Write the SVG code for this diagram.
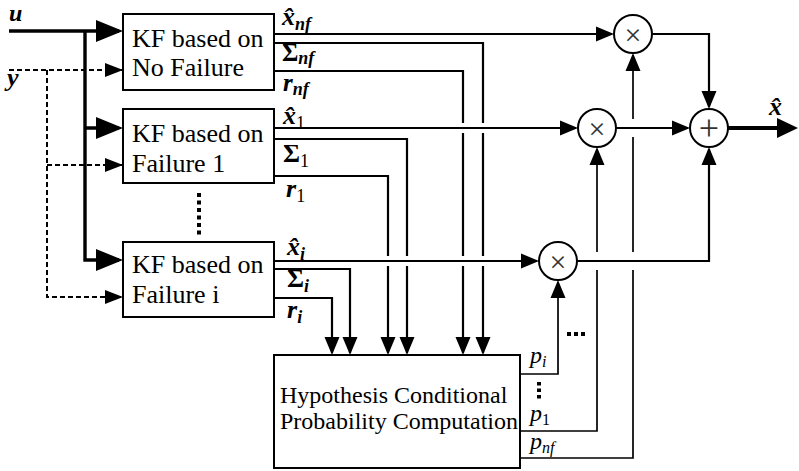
<svg xmlns="http://www.w3.org/2000/svg" width="799" height="471" viewBox="0 0 799 471">
<defs>
<style>
.box{fill:#fff;stroke:#000;stroke-width:2}
.t{font-family:"Liberation Serif","Times New Roman",serif;fill:#000}
.kf{font-size:26px}
.hyp{font-size:24px}
.m{font-size:26px}
.pl{font-size:24px;font-style:italic}
.bi{font-weight:bold;font-style:italic}
.b{font-weight:bold;font-style:normal}
.r{font-weight:normal;font-style:normal}
.s{font-size:18px}
.ps{font-size:16px}
.sig{fill:none;stroke:#000;stroke-width:2.2}
.p{fill:none;stroke:#000;stroke-width:1.7}
.thick{fill:none;stroke:#000;stroke-width:3.4}
.out{fill:none;stroke:#000;stroke-width:4}
.dash{fill:none;stroke:#000;stroke-width:2;stroke-dasharray:5 3}
.circ{fill:#fff;stroke:#000;stroke-width:2}
.op{font-family:"Liberation Serif",serif;fill:#333;text-anchor:middle;dominant-baseline:central}
.dots{fill:none;stroke:#000;stroke-width:4}
</style>
<marker id="as" markerUnits="userSpaceOnUse" markerWidth="20" markerHeight="20" orient="auto" overflow="visible"><path d="M2,0 L-16,-7.5 L-16,7.5 Z"/></marker>
<marker id="at" markerUnits="userSpaceOnUse" markerWidth="30" markerHeight="30" orient="auto" overflow="visible"><path d="M4,0 L-23,-11 L-23,11 Z"/></marker>
<marker id="ad" markerUnits="userSpaceOnUse" markerWidth="20" markerHeight="20" orient="auto" overflow="visible"><path d="M0,0 L-18,-7 L-18,7 Z"/></marker>
<marker id="ao" markerUnits="userSpaceOnUse" markerWidth="30" markerHeight="30" orient="auto" overflow="visible"><path d="M4,0 L-17,-10 L-17,10 Z"/></marker>
</defs>

<g id="connectors">
  <!-- y measurement (dashed) -->
  <path class="dash" d="M9,70 H123" marker-end="url(#ad)"/>
  <path class="dash" d="M47,70 V297 H123" marker-end="url(#ad)"/>
  <path class="dash" d="M47,165 H123" marker-end="url(#ad)"/>
  <!-- u input (thick) -->
  <path class="thick" d="M9,31 H119" marker-end="url(#at)"/>
  <path class="thick" d="M85,31 V260 H119" marker-end="url(#at)"/>
  <path class="thick" d="M85,128 H119" marker-end="url(#at)"/>

  <!-- KF outputs -->
  <path class="sig" d="M274,34 H612" marker-end="url(#as)"/>
  <path class="sig" d="M274,43 H483 V123 M483,133 V256"/>
  <path class="sig" d="M483,266 V353" marker-end="url(#as)"/>
  <path class="sig" d="M274,71 H463 V123 M463,133 V256"/>
  <path class="sig" d="M463,266 V353" marker-end="url(#as)"/>
  <path class="sig" d="M274,128 H576" marker-end="url(#as)"/>
  <path class="sig" d="M274,139 H407 V256"/>
  <path class="sig" d="M407,266 V353" marker-end="url(#as)"/>
  <path class="sig" d="M274,176 H388 V256"/>
  <path class="sig" d="M388,266 V353" marker-end="url(#as)"/>
  <path class="sig" d="M274,261 H537" marker-end="url(#as)"/>
  <path class="sig" d="M274,269 H350 V353" marker-end="url(#as)"/>
  <path class="sig" d="M274,298 H332 V353" marker-end="url(#as)"/>

  <!-- multipliers to sum -->
  <path class="sig" d="M652,34 H709 V107" marker-end="url(#as)"/>
  <path class="sig" d="M616,128 H688" marker-end="url(#as)"/>
  <path class="sig" d="M577,261 H709 V149" marker-end="url(#as)"/>
  <path class="out" d="M728,128 H794" marker-end="url(#ao)"/>

  <!-- probabilities -->
  <path class="p" d="M520,374 H558 V282" marker-end="url(#as)"/>
  <path class="p" d="M520,431 H597 V270"/>
  <path class="p" d="M597,252 V149" marker-end="url(#as)"/>
  <path class="p" d="M520,458 H633 V270 M633,252 V137"/>
  <path class="p" d="M633,119 V55" marker-end="url(#as)"/>

  <!-- ellipses -->
  <path class="dots" d="M199,193 V236" stroke-dasharray="4 3.5"/>
  <path class="dots" d="M567,334 H587" stroke-dasharray="4 3"/>
  <path class="dots" d="M539,382 V400" stroke-dasharray="3.5 3"/>

  <!-- signal labels -->
  <text class="t bi" x="9" y="21" font-size="24">u</text>
  <text class="t m bi" x="7" y="86">y</text>
  <text class="t m bi" x="282" y="25">x̂<tspan class="s" dy="5">nf</tspan></text>
  <text class="t b" x="282" y="61" font-size="25">Σ<tspan class="s bi" dy="3">nf</tspan></text>
  <text class="t bi" x="283" y="91" font-size="25">r<tspan class="s" dy="4">nf</tspan></text>
  <text class="t m bi" x="283" y="124">x̂<tspan class="s r" dy="5">1</tspan></text>
  <text class="t m b" x="283" y="162">Σ<tspan class="s r" dy="5">1</tspan></text>
  <text class="t m bi" x="286" y="197">r<tspan class="s r" dy="5">1</tspan></text>
  <text class="t m bi" x="287" y="255">x̂<tspan class="s" dy="5">i</tspan></text>
  <text class="t m b" x="287" y="287">Σ<tspan class="s bi" dy="5">i</tspan></text>
  <text class="t m bi" x="287" y="318">r<tspan class="s" dy="5">i</tspan></text>
  <text class="t pl" x="530" y="363">p<tspan class="ps" dy="4">i</tspan></text>
  <text class="t pl" x="530" y="421">p<tspan class="ps r" dy="4">1</tspan></text>
  <text class="t pl" x="530" y="449">p<tspan class="ps" dy="4">nf</tspan></text>
  <text class="t m bi" x="769" y="115">x̂</text>
</g>

<g id="kf_nf">
  <rect class="box" x="123" y="14" width="151" height="76"/>
  <text class="t kf" x="132" y="47">KF based on</text>
  <text class="t kf" x="132" y="76">No Failure</text>
</g>
<g id="kf_1">
  <rect class="box" x="123" y="109" width="151" height="74"/>
  <text class="t kf" x="132" y="142">KF based on</text>
  <text class="t kf" x="132" y="172">Failure 1</text>
</g>
<g id="kf_i">
  <rect class="box" x="123" y="242" width="151" height="75"/>
  <text class="t kf" x="132" y="273">KF based on</text>
  <text class="t kf" x="132" y="303">Failure i</text>
</g>
<g id="hyp">
  <rect class="box" x="274" y="355" width="246" height="113"/>
  <text class="t hyp" x="280" y="403">Hypothesis Conditional</text>
  <text class="t hyp" x="280" y="429">Probability Computation</text>
</g>
<g id="mul_nf">
  <circle class="circ" cx="633" cy="34" r="19"/>
  <text class="op" x="633" y="34" font-size="30">×</text>
</g>
<g id="mul_1">
  <circle class="circ" cx="597" cy="128" r="19"/>
  <text class="op" x="597" y="128" font-size="30">×</text>
</g>
<g id="mul_i">
  <circle class="circ" cx="558" cy="261" r="19"/>
  <text class="op" x="558" y="261" font-size="30">×</text>
</g>
<g id="sum">
  <circle class="circ" cx="709" cy="128" r="19"/>
  <text class="op" x="709" y="128" font-size="36">+</text>
</g>
</svg>
